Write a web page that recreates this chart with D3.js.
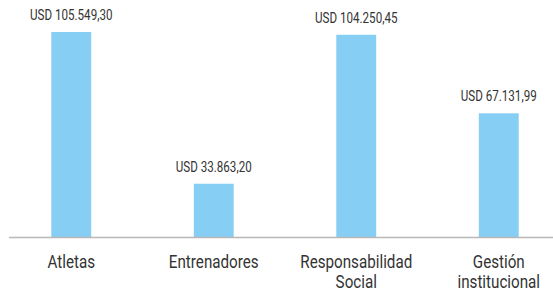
<!DOCTYPE html>
<html>
<head>
<meta charset="utf-8">
<script src="https://cdn.jsdelivr.net/npm/d3@7"></script>
<style>
  body { margin: 0; background: #fff; }
  svg text { font-family: Roboto, "Liberation Sans", sans-serif; fill: #333; }
</style>
</head>
<body>
<div id="chart"></div>
<script>
// chart data
var categories = ["Atletas", "Entrenadores", "Responsabilidad Social", "Gestión institucional"];
var labelLines = [["Atletas"], ["Entrenadores"], ["Responsabilidad", "Social"], ["Gestión", "institucional"]];
var amounts = [105549.30, 33863.20, 104250.45, 67131.99];
var valueLabels = ["USD 105.549,30", "USD 33.863,20", "USD 104.250,45", "USD 67.131,99"];

const width = 553;
const height = 293;
const baseY = 237;
// the original type is a condensed face, squeeze Roboto to get close
const squeezeValue = 0.83;
const squeezeCat = 0.8;

var svg = d3.select("#chart")
  .append("svg")
  .attr("width", width)
  .attr("height", height);

var x = d3.scaleBand()
  .domain(categories)
  .range([0, 570])
  .paddingInner(0.72)
  .paddingOuter(0.36);

// the bars don't start from zero in the original, the base sits around 8.7k
var y = d3.scaleLinear()
  .domain([8700, 105549.30])
  .range([baseY, 32]);

var center = function (c) { return x(c) + x.bandwidth() / 2; };

svg.append("g")
  .selectAll("rect")
  .data(amounts)
  .enter()
  .append("rect")
  .attr("x", function (d, i) { return x(categories[i]); })
  .attr("width", x.bandwidth())
  .attr("y", function (d) { return y(d); })
  .attr("height", function (d) { return baseY - y(d); })
  .attr("fill", "#87cef5");

// value labels above bars
svg.append("g")
  .selectAll("text")
  .data(amounts)
  .enter()
  .append("text")
  .attr("transform", function (d, i) {
    return "translate(" + center(categories[i]) + "," + (y(d) - 12) + ") scale(" + squeezeValue + ",1)";
  })
  .attr("text-anchor", "middle")
  .style("font-size", "14px")
  .text(function (d, i) { return valueLabels[i]; });

// baseline
svg.append("line")
  .attr("x1", 9)
  .attr("x2", width)
  .attr("y1", baseY + 0.5)
  .attr("y2", baseY + 0.5)
  .attr("stroke", "#b8b8b8")
  .attr("stroke-width", 1.5);

// category labels, some on two lines
var cats = svg.append("g")
  .selectAll("text")
  .data(categories)
  .enter()
  .append("text")
  .attr("transform", function (d) {
    return "translate(" + center(d) + ",267.5) scale(" + squeezeCat + ",1)";
  })
  .attr("text-anchor", "middle")
  .style("font-size", "19px");

cats.each(function (d, i) {
  var t = d3.select(this);
  labelLines[i].forEach(function (line, j) {
    t.append("tspan")
      .attr("x", 0)
      .attr("dy", j === 0 ? 0 : 20.5)
      .text(line);
  });
});
</script>
</body>
</html>
